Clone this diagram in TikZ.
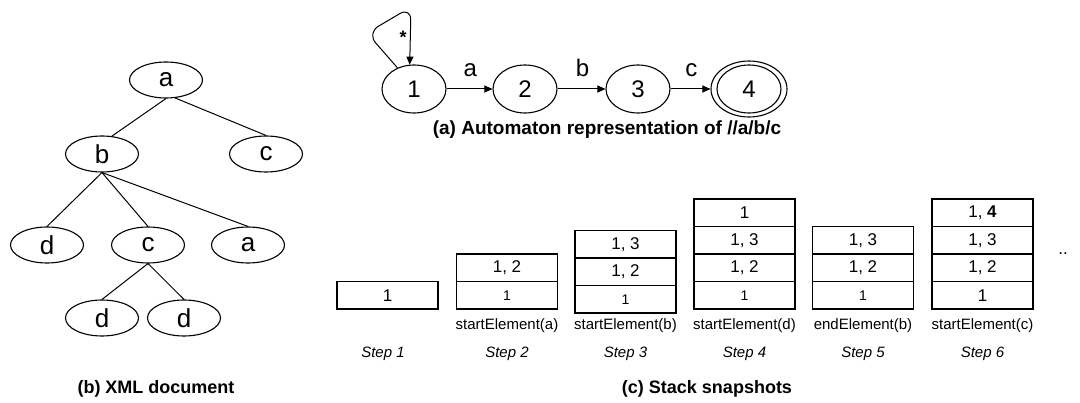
\documentclass[tikz,border=0pt]{standalone}
\usepackage{fontspec}
\setmainfont{Liberation Sans}
\usetikzlibrary{shapes.geometric,arrows.meta}
\newcommand{\fsz}[1]{\fontsize{#1}{#1}\selectfont}

\begin{document}
\begin{tikzpicture}[x=1pt,y=-1pt,
  treenode/.style={ellipse,draw,line width=1.1pt,minimum width=73pt,minimum height=36pt,inner sep=0pt,font=\fsz{26}},
  state/.style={ellipse,draw,line width=1.1pt,minimum width=64pt,minimum height=48pt,inner sep=0pt,font=\fsz{24}},
  edge/.style={line width=1pt},
  trans/.style={line width=1pt,-{Triangle[length=8pt,width=7pt]}},
  translbl/.style={font=\fsz{24},inner sep=1pt},
  cell/.style={rectangle,draw,line width=1.1pt,minimum width=101pt,minimum height=27.5pt,inner sep=0pt,outer sep=0pt,font=\fsz{17}},
  lowcell/.style={cell,font=\fsz{14}},
  call/.style={font=\fsz{15},inner sep=0pt},
  steplbl/.style={font=\fsz{15}\itshape,inner sep=0pt},
  caption/.style={font=\fsz{18}\bfseries,inner sep=0pt},
]
\useasboundingbox (0,0) rectangle (1080,403);
\fill[white] (0,0) rectangle (1080,403);

% ---------- XML document tree ----------
\node[treenode] (ta)  at (166,80)  {a};
\node[treenode] (tb)  at (102,154) {b};
\node[treenode] (tc1) at (266,154) {c};
\node[treenode] (td1) at (47,245)  {d};
\node[treenode] (tc2) at (148,245) {c};
\node[treenode] (ta2) at (248,245) {a};
\node[treenode] (td2) at (102,318) {d};
\node[treenode] (td3) at (184,318) {d};

\draw[edge] (ta.south) -- (tb.61);
\draw[edge] (ta.-63) -- (tc1.north);
\draw[edge] (tb.south) -- (td1.north);
\draw[edge] (tb.south) -- (tc2.north);
\draw[edge] (tb.south) -- (ta2.north);
\draw[edge] (tc2.south) -- (td2.north);
\draw[edge] (tc2.south) -- (td3.north);

\node[caption] (capb) at (156,389) {(b) XML document};

% ---------- automaton for //a/b/c ----------
\node[state] (q1) at (414,89) {1};
\node[state] (q2) at (525,89) {2};
\node[state] (q3) at (638,89) {3};
\node[state] (q4) at (749,89) {4};
\node[ellipse,draw,line width=1.1pt,minimum width=76pt,minimum height=56pt,inner sep=0pt] (q4o) at (749,89) {};

\draw[trans] (q1) -- node[translbl,above=11pt,pos=0.52] {a} (q2);
\draw[trans] (q2) -- node[translbl,above=11pt,pos=0.52] {b} (q3);
\draw[trans] (q3) -- node[translbl,above=11pt,pos=0.52] {c} (q4o);

\coordinate (l1) at (367,33);
\coordinate (l2) at (411,7);
\draw[trans,rounded corners=13pt] (q1.128) -- (l1) -- (l2) -- (q1.100);
\node[font=\fsz{18}\bfseries,inner sep=0pt] (star) at (403,37) {*};

\node[caption,font=\fsz{19}\bfseries] (capa) at (607,130) {(a) Automaton representation of //a/b/c};

% ---------- stack snapshots ----------
% step 1
\node[cell] (s1a) at (387.5,295.25) {1};
% step 2
\node[lowcell] (s2a) at (507,295.25) {1};
\node[cell]    (s2b) at (507,267.75) {1, 2};
% step 3
\node[lowcell] (s3a) at (625.5,299.25) {1};
\node[cell]    (s3b) at (625.5,271.75) {1, 2};
\node[cell]    (s3c) at (625.5,244.25) {1, 3};
% step 4
\node[lowcell] (s4a) at (744.5,295.25) {1};
\node[cell]    (s4b) at (744.5,267.75) {1, 2};
\node[cell]    (s4c) at (744.5,240.25) {1, 3};
\node[cell]    (s4d) at (744.5,212.75) {1};
% step 5
\node[lowcell] (s5a) at (863,295.25) {1};
\node[cell]    (s5b) at (863,267.75) {1, 2};
\node[cell]    (s5c) at (863,240.25) {1, 3};
% step 6
\node[cell] (s6a) at (982.5,295.25) {1};
\node[cell] (s6b) at (982.5,267.75) {1, 2};
\node[cell] (s6c) at (982.5,240.25) {1, 3};
\node[cell] (s6d) at (982.5,212.75) {1, \textbf{4}};

\node[font=\fsz{17},inner sep=0pt] (more) at (1063,254) {..};

\node[call] (e2) at (507,326)   {startElement(a)};
\node[call] (e3) at (625.5,326) {startElement(b)};
\node[call] (e4) at (744.5,326) {startElement(d)};
\node[call] (e5) at (863,326)   {endElement(b)};
\node[call] (e6) at (982.5,326) {startElement(c)};

\node[steplbl] (st1) at (383,354)   {Step 1};
\node[steplbl] (st2) at (507,354)   {Step 2};
\node[steplbl] (st3) at (625.5,354) {Step 3};
\node[steplbl] (st4) at (744.5,354) {Step 4};
\node[steplbl] (st5) at (863,354)   {Step 5};
\node[steplbl] (st6) at (982.5,354) {Step 6};

\node[caption] (capc) at (707,389) {(c) Stack snapshots};
\end{tikzpicture}
\end{document}
